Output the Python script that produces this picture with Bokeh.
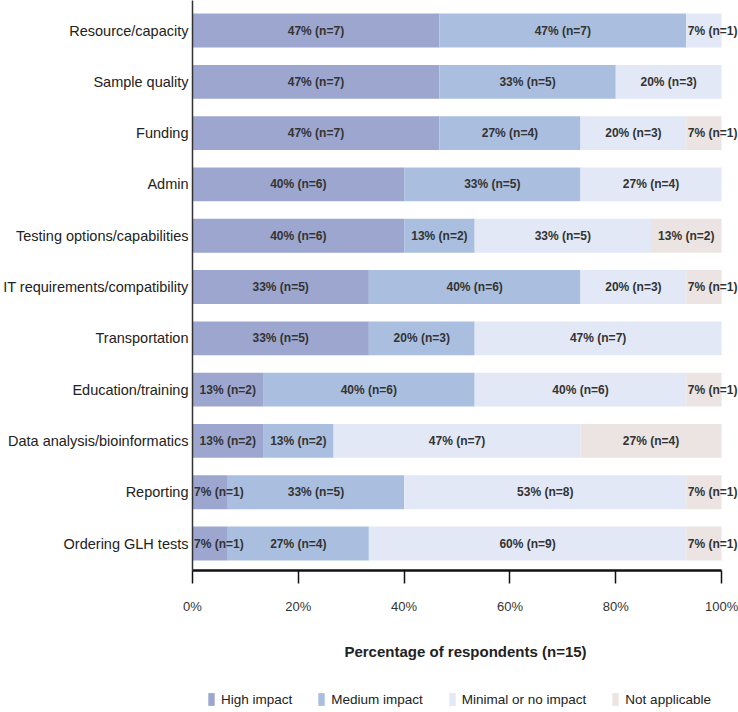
from bokeh.plotting import figure
from bokeh.layouts import column
from bokeh.models import (ColumnDataSource, Range1d, FixedTicker, Legend, LegendItem,
                          NumeralTickFormatter)
from bokeh.core.properties import value
from bokeh.embed import file_html
from bokeh.resources import INLINE

# ---- data (top to bottom as in the chart) ----
categories = ["Resource/capacity", "Sample quality", "Funding", "Admin",
              "Testing options/capabilities", "IT requirements/compatibility",
              "Transportation", "Education/training", "Data analysis/bioinformatics",
              "Reporting", "Ordering GLH tests"]
high_impact = [7, 7, 7, 6, 6, 5, 5, 2, 2, 1, 1]
medium_impact = [7, 5, 4, 5, 2, 6, 3, 6, 2, 5, 4]
minimal_impact = [1, 3, 3, 4, 5, 3, 7, 6, 7, 8, 9]
not_applicable = [0, 0, 1, 0, 2, 1, 0, 1, 4, 1, 1]
series_names = ["High impact", "Medium impact", "Minimal or no impact", "Not applicable"]
colors = ["#9ca6cf", "#aabfdf", "#e2e8f5", "#ece4e2"]
total_n = 15
x_ticks = [0, 20, 40, 60, 80, 100]

FONT = "Liberation Sans"

n_cat = len(categories)
ypos = [n_cat - 1 - i for i in range(n_cat)]

p = figure(width=738, height=684, output_backend="svg", toolbar_location=None,
           x_range=Range1d(0, 103.2), y_range=Range1d(-0.526, 10.585),
           min_border_left=192, min_border_right=0, min_border_top=0,
           min_border_bottom=114)
p.outline_line_color = None
p.xgrid.grid_line_color = None
p.ygrid.grid_line_color = None

# legend strip (shares the data sources; its y range shows none of the bars)
lp = figure(width=738, height=28, output_backend="svg", toolbar_location=None,
            x_range=Range1d(0, 103.2), y_range=Range1d(100, 101),
            x_axis_location=None, y_axis_location=None,
            min_border_left=0, min_border_right=0, min_border_top=0, min_border_bottom=0)
lp.outline_line_color = None
lp.xgrid.grid_line_color = None
lp.ygrid.grid_line_color = None

series = [high_impact, medium_impact, minimal_impact, not_applicable]
cum = [0.0] * n_cat
items = []
wide_x, wide_y, wide_t = [], [], []
nar_x, nar_y, nar_t = [], [], []
for name, vals, col in zip(series_names, series, colors):
    left = list(cum)
    right = [c + v / total_n * 100 for c, v in zip(cum, vals)]
    src = ColumnDataSource(dict(y=ypos, left=left, right=right))
    p.hbar(y="y", left="left", right="right", height=0.66, source=src,
           fill_color=col, line_color=None)
    r = lp.hbar(y="y", left="left", right="right", height=0.66, source=src,
                fill_color=col, line_color=None)
    items.append(LegendItem(label=name, renderers=[r]))
    for i, v in enumerate(vals):
        if v == 0:
            continue
        lab = f"{round(v / total_n * 100)}% (n={v})"
        if v <= 1:
            nar_x.append(left[i]); nar_y.append(ypos[i]); nar_t.append(lab)
        else:
            wide_x.append((left[i] + right[i]) / 2); wide_y.append(ypos[i]); wide_t.append(lab)
    cum = right

p.text(x=wide_x, y=wide_y, text=wide_t, text_align="center", text_baseline="middle",
       text_font=value(FONT), text_font_style="bold", text_font_size="12px",
       text_color="#333333")
p.text(x=nar_x, y=nar_y, text=nar_t, text_align="left", text_baseline="middle",
       x_offset=1.5, text_font=value(FONT), text_font_style="bold", text_font_size="12px",
       text_color="#333333")

# x axis
xa = p.xaxis[0]
xa.bounds = (0, 100)
xa.ticker = FixedTicker(ticks=x_ticks)
xa.formatter = NumeralTickFormatter(format="0")
xa.major_label_overrides = {t: f"{t}%" for t in x_ticks}
xa.axis_line_width = 2.5
xa.axis_line_color = "#111111"
xa.major_tick_line_color = "#111111"
xa.major_tick_line_width = 1.5
xa.major_tick_out = 13
xa.major_tick_in = 0
xa.minor_tick_line_color = None
xa.major_label_standoff = 15
xa.major_label_text_font = FONT
xa.major_label_text_font_size = "13px"
xa.major_label_text_color = "#333333"
xa.axis_label = "Percentage of respondents (n=15)"
xa.axis_label_text_font = FONT
xa.axis_label_text_font_size = "15px"
xa.axis_label_text_font_style = "bold"
xa.axis_label_text_color = "#222222"
xa.axis_label_standoff = 26

# y axis
ya = p.yaxis[0]
ya.ticker = FixedTicker(ticks=ypos)
ya.major_label_overrides = {y: c for y, c in zip(ypos, categories)}
ya.axis_line_width = 1.5
ya.axis_line_color = "#333333"
ya.major_tick_out = 0
ya.major_tick_in = 0
ya.minor_tick_line_color = None
ya.major_label_standoff = 4
ya.major_label_text_font = FONT
ya.major_label_text_font_size = "14.5px"
ya.major_label_text_color = "#222222"

legend = Legend(items=items, orientation="horizontal", location=(15, 5),
                glyph_width=8, glyph_height=16, label_standoff=6, spacing=25,
                padding=0, margin=0, border_line_color=None,
                background_fill_alpha=0,
                label_text_font=FONT, label_text_font_size="13.5px",
                label_text_color="#222222")
lp.add_layout(legend, "center")

layout = column(p, lp, spacing=0)
open("out.html", "w").write(file_html(layout, INLINE))
